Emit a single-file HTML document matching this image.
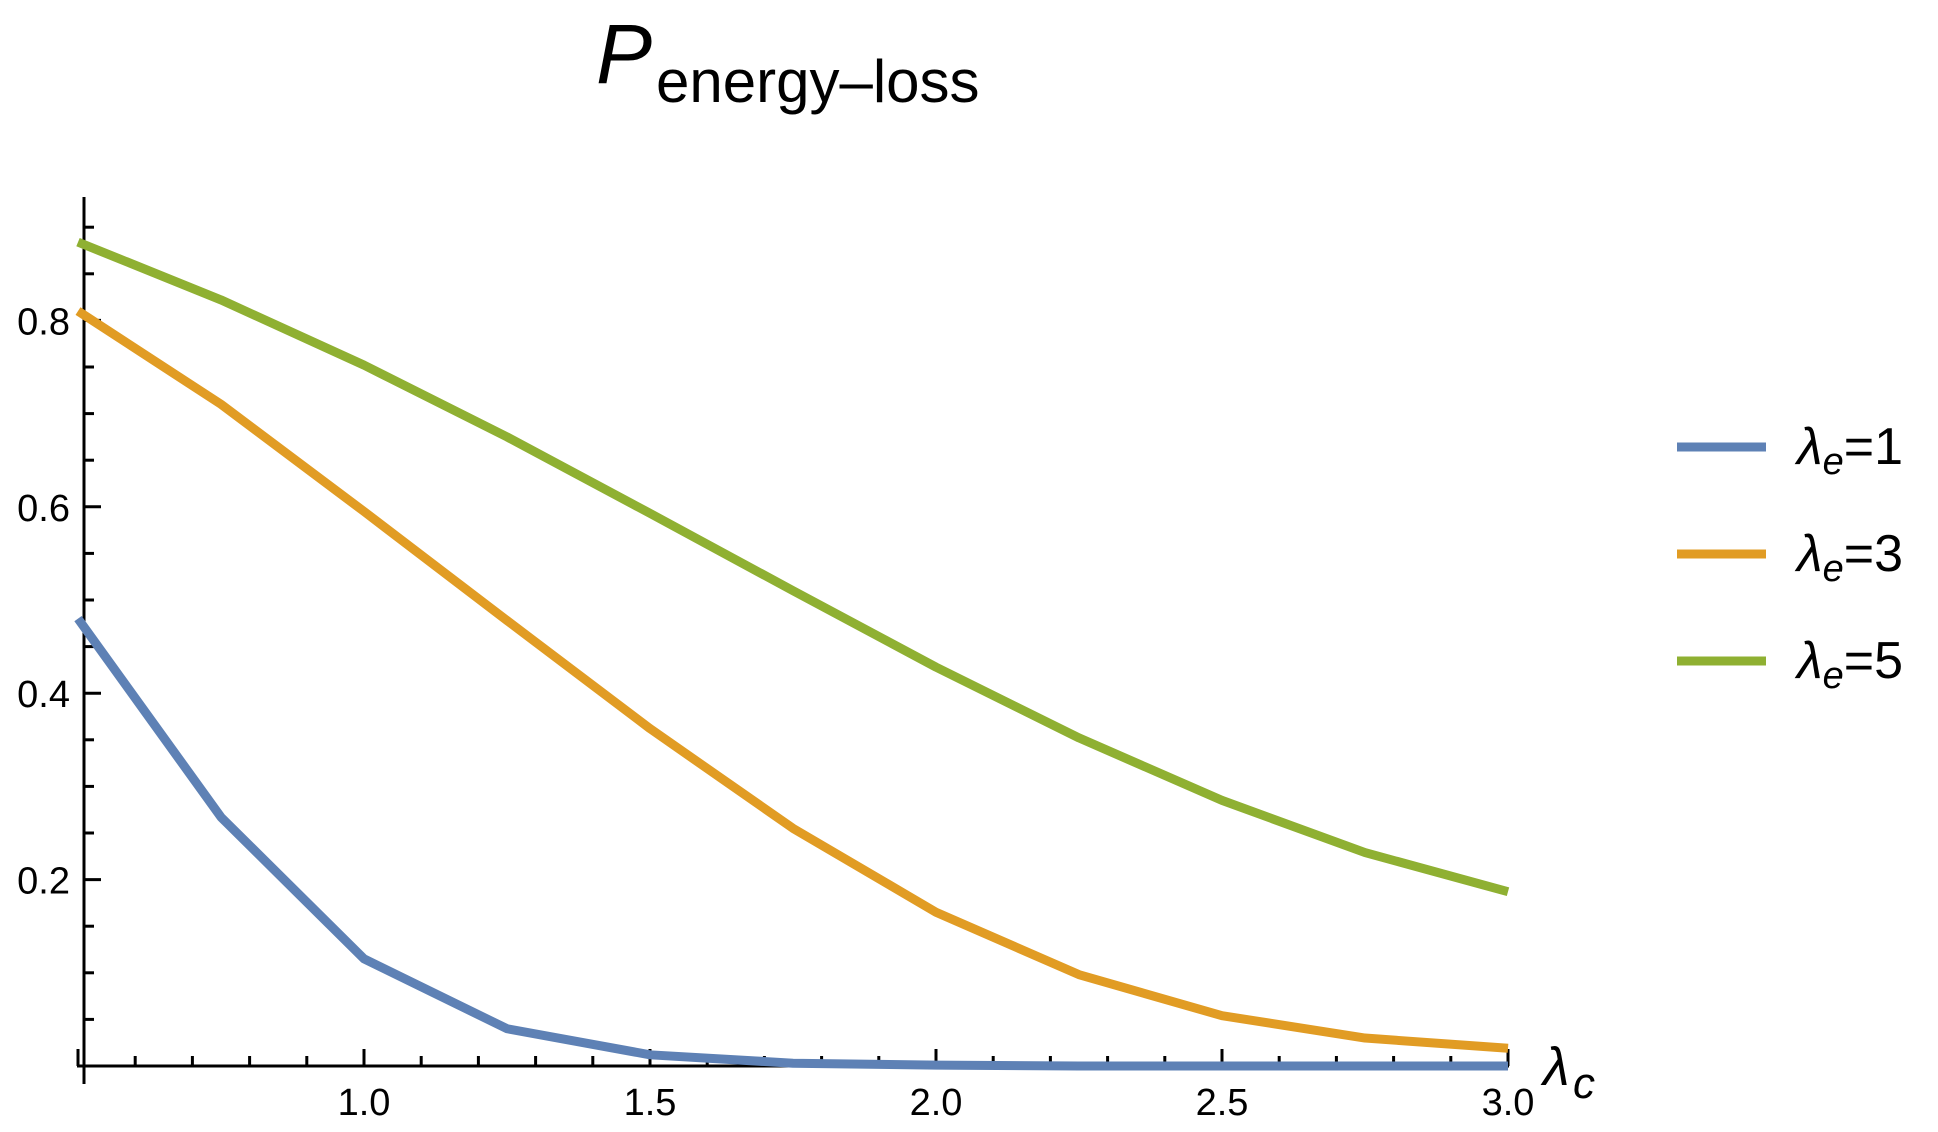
<!DOCTYPE html>
<html><head><meta charset="utf-8"><style>
html,body{margin:0;padding:0;background:#fff;}
svg{display:block;}
text{font-family:"Liberation Sans",sans-serif;fill:#000;}
</style></head><body>
<svg width="1938" height="1132" viewBox="0 0 1938 1132" xmlns="http://www.w3.org/2000/svg">
<text x="596" y="83" font-size="84" font-style="italic">P</text>
<text x="656" y="102" font-size="60">energy–loss</text>
<g stroke="#000" stroke-width="3">
<line x1="84" y1="197" x2="84" y2="1084"/>
<line x1="77" y1="1066" x2="1509" y2="1066"/>
</g>
<g id="ticks" stroke="#000" stroke-width="3"></g>
<g id="series" fill="none" stroke-width="9" stroke-linejoin="round"></g>
<g id="labels" font-size="38"></g>
<text x="1543" y="1085" font-size="54" font-style="italic">λ</text>
<text x="1573" y="1098" font-size="44" font-style="italic">c</text>
<g stroke-width="9">
<line x1="1677" y1="447" x2="1766" y2="447" stroke="#5e81b5"/>
<line x1="1677" y1="554" x2="1766" y2="554" stroke="#e19c24"/>
<line x1="1677" y1="661" x2="1766" y2="661" stroke="#8fb032"/>
</g>
<g font-size="52">
<text x="1797" y="464"><tspan font-style="italic">λ</tspan><tspan font-style="italic" font-size="38" dy="10">e</tspan><tspan dy="-10">=1</tspan></text>
<text x="1797" y="571"><tspan font-style="italic">λ</tspan><tspan font-style="italic" font-size="38" dy="10">e</tspan><tspan dy="-10">=3</tspan></text>
<text x="1797" y="678"><tspan font-style="italic">λ</tspan><tspan font-style="italic" font-size="38" dy="10">e</tspan><tspan dy="-10">=5</tspan></text>
</g>
</svg>
<script>
var NS="http://www.w3.org/2000/svg";
function X(v){return 78+(v-0.5)*572;}
function Y(v){return 1066-932*v;}
var t=document.getElementById("ticks"),l=document.getElementById("labels"),s=document.getElementById("series");
function ln(a,b,c,d,p){var e=document.createElementNS(NS,"line");e.setAttribute("x1",a);e.setAttribute("y1",b);e.setAttribute("x2",c);e.setAttribute("y2",d);p.appendChild(e);}
function tx(x,y,str,anchor){var e=document.createElementNS(NS,"text");e.setAttribute("x",x);e.setAttribute("y",y);e.setAttribute("text-anchor",anchor);e.textContent=str;l.appendChild(e);}
for(var i=0;i<=25;i++){var v=0.5+i*0.1;var x=X(v);var maj=(i%5==0);ln(x,1066,x,1066-(maj?17:10),t);}
[1,1.5,2,2.5,3].forEach(function(v){tx(X(v),1115,v.toFixed(1),"middle");});
for(var j=1;j<=18;j++){var v=j*0.05;var y=Y(v);var maj=(j%4==0);ln(84,y,84+(maj?17:10),y,t);}
[0.2,0.4,0.6,0.8].forEach(function(v){tx(70,Y(v)+14,v.toFixed(1),"end");});
var xs=[0.5,0.75,1,1.25,1.5,1.75,2,2.25,2.5,2.75,3];
var data=[["#5e81b5",[0.48,0.267,0.115,0.04,0.012,0.003,0.001,0,0,0,0]],
["#e19c24",[0.81,0.71,0.595,0.478,0.362,0.255,0.165,0.098,0.054,0.030,0.019]],
["#8fb032",[0.884,0.822,0.752,0.675,0.593,0.51,0.428,0.352,0.285,0.229,0.187]]];
data.forEach(function(d){var p=document.createElementNS(NS,"polyline");p.setAttribute("stroke",d[0]);
p.setAttribute("points",xs.map(function(x,k){return X(x)+","+Y(d[1][k]);}).join(" "));s.appendChild(p);});
</script>
</body></html>
